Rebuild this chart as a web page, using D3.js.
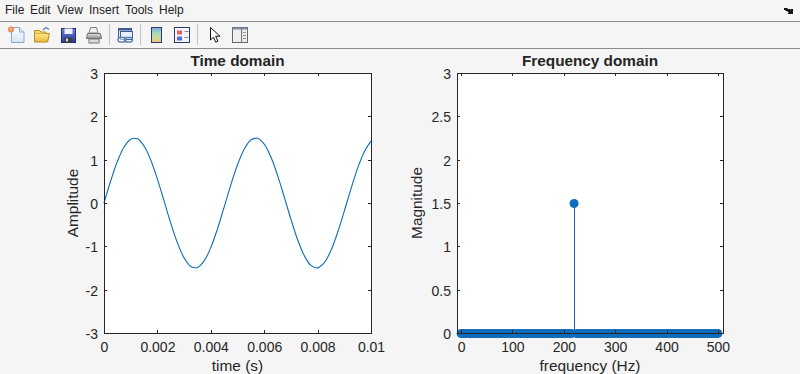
<!DOCTYPE html>
<html><head><meta charset="utf-8">
<script src="https://cdnjs.cloudflare.com/ajax/libs/d3/7.8.5/d3.min.js"></script>
<style>html,body{margin:0;padding:0;background:#f5f5f5;overflow:hidden}svg{display:block}text{font-family:"Liberation Sans",Arial,sans-serif}</style>
</head><body><svg id="c" width="800" height="374"></svg>
<script>
const menuItems=["File","Edit","View","Insert","Tools","Help"];
const timeS=[0,0.00025,0.0005,0.00075,0.001,0.00125,0.0015,0.00175,0.002,0.00225,0.0025,0.00275,0.003,0.00325,0.0035,0.00375,0.004,0.00425,0.0045,0.00475,0.005,0.00525,0.0055,0.00575,0.006,0.00625,0.0065,0.00675,0.007,0.00725,0.0075,0.00775,0.008,0.00825,0.0085,0.00875,0.009,0.00925,0.0095,0.00975,0.01];
const amplitude=[0,0.508,0.956,1.291,1.473,1.482,1.315,0.992,0.552,0.047,-0.464,-0.919,-1.266,-1.464,-1.488,-1.337,-1.027,-0.596,-0.094,0.419,0.882,1.241,1.453,1.493,1.357,1.061,0.639,0.141,-0.373,-0.843,-1.214,-1.44,-1.497,-1.377,-1.094,-0.681,-0.188,0.327,0.804,1.185,1.427];
const frequency=[0,5,10,15,20,25,30,35,40,45,50,55,60,65,70,75,80,85,90,95,100,105,110,115,120,125,130,135,140,145,150,155,160,165,170,175,180,185,190,195,200,205,210,215,220,225,230,235,240,245,250,255,260,265,270,275,280,285,290,295,300,305,310,315,320,325,330,335,340,345,350,355,360,365,370,375,380,385,390,395,400,405,410,415,420,425,430,435,440,445,450,455,460,465,470,475,480,485,490,495,500];
const magnitude=[0,0,0,0,0,0,0,0,0,0,0,0,0,0,0,0,0,0,0,0,0,0,0,0,0,0,0,0,0,0,0,0,0,0,0,0,0,0,0,0,0,0,0,0,1.5,0,0,0,0,0,0,0,0,0,0,0,0,0,0,0,0,0,0,0,0,0,0,0,0,0,0,0,0,0,0,0,0,0,0,0,0,0,0,0,0,0,0,0,0,0,0,0,0,0,0,0,0,0,0,0,0];
const timeTicks=[0,0.002,0.004,0.006,0.008,0.01];
const ampTicks=[-3,-2,-1,0,1,2,3];
const freqTicks=[0,100,200,300,400,500];
const magTicks=[0,0.5,1,1.5,2,2.5,3];
const blue="#0e6cbc",ink="#262626";
const svg=d3.select("#c");

// menu + toolbar
svg.append("rect").attr("x",0).attr("y",21).attr("width",800).attr("height",1).attr("fill","#8c8c8c");
svg.append("rect").attr("x",0).attr("y",48).attr("width",800).attr("height",1).attr("fill","#8c8c8c");
const menuX=[5,30,57,89,125,159];
svg.selectAll(".m").data(menuItems).join("text").attr("x",(d,i)=>menuX[i]).attr("y",14).attr("font-size",12).attr("fill","#222").text(d=>d);
svg.append("path").attr("d","M784 8h3l1 1h2l1 1v-1h2v5h-5v-1h1l-2-2h-1l-1-1h-1z").attr("fill","#111");
[109,140,197].forEach(x=>svg.append("rect").attr("x",x).attr("y",24).attr("width",1).attr("height",21).attr("fill","#c4c4c4"));
const tb=svg.append("g");
const defs=svg.append("defs");
function grad(id,stops){const g=defs.append("linearGradient").attr("id",id).attr("x2",0).attr("y2",1);stops.forEach((c,i)=>g.append("stop").attr("offset",i/(stops.length-1)).attr("stop-color",c));}
grad("cb",["#7fa8e8","#9fd8c0","#c8dc98","#f0c478"]);
grad("pg",["#ffffff","#d4e4f6"]);
grad("fo",["#fbe88a","#e9b93c"]);
grad("sv",["#6f7fd8","#2c3a9c"]);
grad("pr",["#e4e4e4","#8e8e8e"]);
function R(x,y,w,h,f,s){tb.append("rect").attr("x",x+.5).attr("y",y+.5).attr("width",w).attr("height",h).attr("fill",f).attr("stroke",s||"none");}
function P(d,f,s,w){tb.append("path").attr("d",d).attr("fill",f).attr("stroke",s||"none").attr("stroke-width",w||1);}
P("M11.5 27.5h8l4.5 4.5v10.5h-12.5z","url(#pg)","#8ea6d0");P("M19.5 27.5v4.5h4.5","#dfeaf7","#8ea6d0");
tb.append("circle").attr("cx",11).attr("cy",29.5).attr("r",2.6).attr("fill","#f4a878").attr("stroke","#e8743c");
P("M34.5 33.5h15l-2 8.5h-13z","url(#fo)","#b08c24");P("M34.5 33.5v-3h5l1.5 1.5h5v1.5","#f4d868","#b08c24");P("M43 30l3-2.5 3 2","none","#5d7fb0",1.3);
R(61,28,14,14,"url(#sv)","#232c78");R(64,28,8,5.5,"#eef0fa");R(64,37,8,5,"#3c3c46");R(65.5,38,2,3,"#ddd");
P("M90.5 27.5h6l1.5 5.5h-9z","#f0f0f0","#808080");P("M87.5 33.5h13l1 5h-15z","url(#pr)","#6f6f6f");R(88.5,38.5,10,4,"#dcdcdc","#777");
R(118,28,13,9,"#dde7f4","#3f5d92");R(118,28,13,2,"#3f5d92");R(120,31,12,8,"#e6eef8","#3f5d92");
tb.append("rect").attr("x",118).attr("y",37.5).attr("width",8).attr("height",4.5).attr("rx",2.2).attr("fill","#fff").attr("fill-opacity",.5).attr("stroke","#5f7fb0").attr("stroke-width",1.4);
tb.append("rect").attr("x",124.5).attr("y",37.5).attr("width",8).attr("height",4.5).attr("rx",2.2).attr("fill","none").attr("stroke","#5f7fb0").attr("stroke-width",1.4);
R(151,27,10,15,"url(#cb)","#2b3a6b");
R(174,27,15,15,"#f4f6fb","#2b3a6b");R(176.5,30,5,4,"#e86060");R(176.5,36,5,4,"#5a68e0");R(184,31,4,.5,"#222");R(184,37,4,.5,"#222");
P("M210.5 27.5v12.5l3-2.8 2.2 5 2.2-1-2.2-5h4.3z","#fff","#111");
R(232,27,15,15,"#eeeeee","#666");R(232,27,15,2,"#7f8f9f");R(241,29,.1,13,"none","#777");R(242.5,32,3,.5,"#333");R(242.5,35,3,.5,"#333");R(242.5,38,3,.5,"#333");

function axes(L,Rr,T,B,xD,yD,xT,yT,xFmt,yFmt,title,xl,yl,ylX){
  const x=d3.scaleLinear().domain(xD).range([L,Rr]);
  const y=d3.scaleLinear().domain(yD).range([B,T]);
  const a=svg.append("g");
  a.append("rect").attr("x",L).attr("y",T).attr("width",Rr-L).attr("height",B-T).attr("fill","#fff");
  return {x,y,a,finish(){
    const xa=d3.axisBottom(x).tickValues(xT).tickSize(0).tickPadding(9).tickFormat(xFmt);
    const ya=d3.axisLeft(y).tickValues(yT).tickSize(0).tickPadding(6).tickFormat(yFmt);
    const gx=a.append("g").attr("transform",`translate(0,${B})`).call(xa);
    const gy=a.append("g").attr("transform",`translate(${L},1)`).call(ya);
    [gx,gy].forEach(s=>{s.select(".domain").remove();s.selectAll("text").attr("font-size",14).attr("fill",ink).attr("font-family",'"Liberation Sans",Arial,sans-serif');});
    const tick=(x1,y1,x2,y2)=>a.append("line").attr("x1",x1).attr("y1",y1).attr("x2",x2).attr("y2",y2).attr("stroke",ink).attr("shape-rendering","crispEdges");
    xT.forEach(v=>{const p=Math.round(x(v))+.5;tick(p,B,p,B-3);tick(p,T,p,T+3);});
    yT.forEach(v=>{const p=Math.round(y(v))+.5;tick(L,p,L+3,p);tick(Rr,p,Rr-3,p);});
    a.append("rect").attr("x",L+.5).attr("y",T+.5).attr("width",Rr-L).attr("height",B-T).attr("fill","none").attr("stroke",ink).attr("shape-rendering","crispEdges");
    a.append("text").attr("x",(L+Rr)/2).attr("y",T-7).attr("text-anchor","middle").attr("font-size",15.3).attr("font-weight","bold").attr("fill",ink).text(title);
    a.append("text").attr("x",(L+Rr)/2).attr("y",B+38).attr("text-anchor","middle").attr("font-size",15.4).attr("fill",ink).text(xl);
    a.append("text").attr("transform",`translate(${ylX},${(T+B)/2}) rotate(-90)`).attr("text-anchor","middle").attr("font-size",15.4).attr("fill",ink).text(yl);
  }};
}
const A=axes(104,371,73,333,[0,0.01],[-3,3],timeTicks,ampTicks,d=>String(d),d=>String(d),"Time domain","time (s)","Amplitude",78);
A.a.append("path").datum(timeS.map((t,i)=>[t,amplitude[i]])).attr("fill","none").attr("stroke",blue).attr("stroke-width",1.1)
 .attr("d",d3.line().x(d=>A.x(d[0])).y(d=>A.y(d[1])).curve(d3.curveCatmullRom));
A.finish();
const F=axes(457,723,73,333,[-8,510],[0,3],freqTicks,magTicks,d=>String(d),d=>String(d),"Frequency domain","frequency (Hz)","Magnitude",422);
F.a.selectAll(".s").data(frequency).join("line").attr("x1",d=>F.x(d)).attr("x2",d=>F.x(d)).attr("y1",F.y(0)).attr("y2",(d,i)=>F.y(magnitude[i])).attr("stroke",blue).attr("stroke-width",1).attr("shape-rendering","crispEdges");
F.a.selectAll(".p").data(frequency).join("circle").attr("cx",d=>F.x(d)).attr("cy",(d,i)=>F.y(magnitude[i])+.5).attr("r",4.5).attr("fill",blue);
F.finish();
</script></body></html>
